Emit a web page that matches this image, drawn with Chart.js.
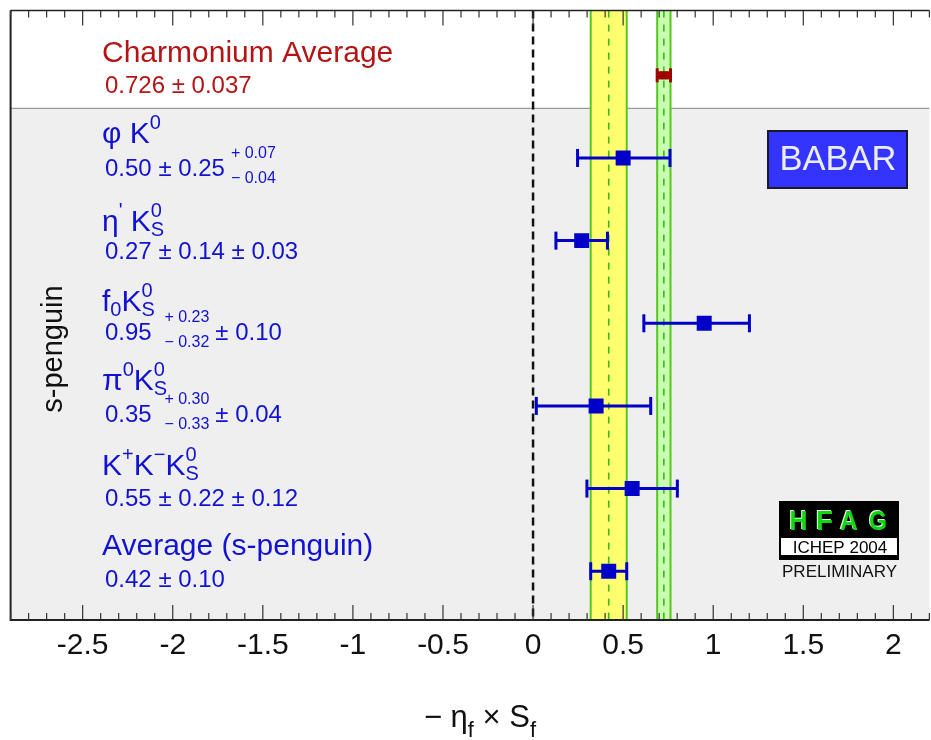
<!DOCTYPE html>
<html><head><meta charset="utf-8">
<script src="https://cdn.jsdelivr.net/npm/chart.js@4.4.1/dist/chart.umd.min.js"></script>
<style>html,body{margin:0;padding:0;background:#fff;overflow:hidden;width:931px;height:740px}canvas{display:block}</style>
</head><body>
<canvas id="c" width="940" height="740" style="width:940px;height:740px"></canvas>
<script>
// ---------------- data ----------------
const categories = ['Charmonium Average', 'φ K0', "η' KS0", 'f0 KS0', 'π0 KS0', 'K+ K− KS0', 'Average (s-penguin)'];
const centralValues = [0.726, 0.50, 0.27, 0.95, 0.35, 0.55, 0.42];
const errorMinus    = [0.037, 0.253, 0.143, 0.335, 0.332, 0.251, 0.10];
const errorPlus     = [0.037, 0.260, 0.143, 0.251, 0.303, 0.251, 0.10];
const nameLabels = [
  [{t:'Charmonium Average'}],
  [{t:'φ K'},{sup:'0'}],
  [{t:'η'},{sup:'\''},{t:' K'},{sup:'0',sub:'S'}],
  [{t:'f'},{sub:'0'},{t:'K'},{sup:'0',sub:'S'}],
  [{t:'π'},{sup:'0'},{t:'K'},{sup:'0',sub:'S'}],
  [{t:'K'},{sup:'+'},{t:'K'},{sup:'−'},{t:'K'},{sup:'0',sub:'S'}],
  [{t:'Average (s-penguin)'}]
];
const valueLabels = [
  [{t:'0.726 ± 0.037'}],
  [{t:'0.50 ± 0.25'},{sup:'+ 0.07',sub:'− 0.04'}],
  [{t:'0.27 ± 0.14 ± 0.03'}],
  [{t:'0.95 '},{sup:'+ 0.23',sub:'− 0.32'},{t:'± 0.10'}],
  [{t:'0.35 '},{sup:'+ 0.30',sub:'− 0.33'},{t:'± 0.04'}],
  [{t:'0.55 ± 0.22 ± 0.12'}],
  [{t:'0.42 ± 0.10'}]
];
const xTickValues = [-2.5, -2, -1.5, -1, -0.5, 0, 0.5, 1, 1.5, 2];
const xTickLabels = ['-2.5', '-2', '-1.5', '-1', '-0.5', '0', '0.5', '1', '1.5', '2'];
const xRange = [-2.9, 2.2];
const yAxisTitle = 's-penguin';
const xAxisTitle = [{t:'− '},{t:'η'},{sub:'f'},{t:' × S'},{sub:'f'}];
const charmoniumIndex = 0;
const sPenguinAverageIndex = 6;

// ---------------- layout / style ----------------
const FONT = '"Liberation Sans", Arial, Helvetica, sans-serif';
const BLUE = '#0000c8', BLUE_TXT = '#1212d2', RED = '#a00000', RED_TXT = '#b41414';
const nameDy  = [-13, -15, -10, -12, -16, -14, -16];
const valueDy = [ 18,  18,  18,  17,  16,  17,  16];
const rowY = i => categories.length - i;

function drawRich(ctx, x, y, segs, st, color) {
  ctx.fillStyle = color; ctx.textBaseline = 'alphabetic'; ctx.textAlign = 'left';
  let cx = x;
  for (const s of segs) {
    if (s.t !== undefined) {
      ctx.font = st.size + 'px ' + FONT;
      ctx.fillText(s.t, cx, y);
      cx += ctx.measureText(s.t).width;
    } else {
      ctx.font = st.script + 'px ' + FONT;
      cx += st.pad || 0;
      let w = 0;
      if (s.sup) { ctx.fillText(s.sup, cx, y + st.supDy); w = Math.max(w, ctx.measureText(s.sup).width); }
      if (s.sub) { ctx.fillText(s.sub, cx, y + st.subDy); w = Math.max(w, ctx.measureText(s.sub).width); }
      cx += w + (st.pad || 0);
    }
  }
  return cx - x;
}
function measureRich(ctx, segs, st) {
  let w = 0;
  for (const s of segs) {
    if (s.t !== undefined) { ctx.font = st.size + 'px ' + FONT; w += ctx.measureText(s.t).width; }
    else { ctx.font = st.script + 'px ' + FONT; let m = 0;
      if (s.sup) m = Math.max(m, ctx.measureText(s.sup).width);
      if (s.sub) m = Math.max(m, ctx.measureText(s.sub).width);
      w += m + 2 * (st.pad || 0); }
  }
  return w;
}
function fitText(ctx, txt, cx, y, maxW) {
  const w = ctx.measureText(txt).width;
  const s = Math.min(1, maxW / w);
  ctx.save(); ctx.translate(cx, y); ctx.scale(s, 1); ctx.textAlign = 'center';
  ctx.fillText(txt, 0, 0); ctx.restore();
}

const decor = {
  id: 'decor',
  beforeDraw(chart) {
    const {ctx, chartArea: a, scales: {y}} = chart;
    const sep = y.getPixelForValue(6.6);
    ctx.save();
    ctx.fillStyle = '#ffffff'; ctx.fillRect(a.left, a.top, a.right - a.left, sep - a.top);
    ctx.fillStyle = '#efefef'; ctx.fillRect(a.left, sep, a.right - a.left, a.bottom - sep);
    ctx.strokeStyle = '#9a9a9a'; ctx.lineWidth = 1.2;
    ctx.beginPath(); ctx.moveTo(a.left, sep); ctx.lineTo(a.right, sep); ctx.stroke();
    ctx.restore();
  },
  beforeDatasetsDraw(chart) {
    const {ctx, chartArea: a, scales: {x, y}} = chart;
    ctx.save();
    const band = (c, e, fill) => {
      const x1 = x.getPixelForValue(c - e), x2 = x.getPixelForValue(c + e), xc = x.getPixelForValue(c);
      ctx.fillStyle = fill; ctx.fillRect(x1, a.top, x2 - x1, a.bottom - a.top);
      ctx.strokeStyle = '#55c81e'; ctx.lineWidth = 2; ctx.setLineDash([]);
      ctx.beginPath(); ctx.moveTo(x1, a.top); ctx.lineTo(x1, a.bottom); ctx.moveTo(x2, a.top); ctx.lineTo(x2, a.bottom); ctx.stroke();
      ctx.lineWidth = 1.6; ctx.setLineDash([7, 7]); ctx.strokeStyle = '#3cb81a';
      ctx.beginPath(); ctx.moveTo(xc, a.top); ctx.lineTo(xc, a.bottom); ctx.stroke();
      ctx.setLineDash([]);
    };
    band(centralValues[sPenguinAverageIndex], errorPlus[sPenguinAverageIndex], '#ffff70');
    band(centralValues[charmoniumIndex], errorPlus[charmoniumIndex], '#c8ffb0');
    // zero line
    const x0 = x.getPixelForValue(0);
    ctx.strokeStyle = '#111'; ctx.lineWidth = 2.5; ctx.setLineDash([8, 5]);
    ctx.beginPath(); ctx.moveTo(x0, a.top); ctx.lineTo(x0, a.bottom); ctx.stroke();
    ctx.setLineDash([]);
    // error bars
    for (let i = 0; i < categories.length; i++) {
      const isC = i === charmoniumIndex;
      const yp = y.getPixelForValue(rowY(i));
      const x1 = x.getPixelForValue(centralValues[i] - errorMinus[i]);
      const x2 = x.getPixelForValue(centralValues[i] + errorPlus[i]);
      const col = isC ? RED : BLUE;
      ctx.strokeStyle = col; ctx.lineWidth = isC ? 8 : 3;
      ctx.beginPath(); ctx.moveTo(x1, yp); ctx.lineTo(x2, yp); ctx.stroke();
      const ch = isC ? 14 : 18;
      ctx.fillStyle = col;
      ctx.fillRect(x1 - 1.5, yp - ch / 2, 3, ch);
      ctx.fillRect(x2 - 1.5, yp - ch / 2, 3, ch);
    }
    ctx.restore();
  },
  afterDraw(chart) {
    const {ctx, chartArea: a, scales: {x, y}} = chart;
    ctx.save();
    // frame
    ctx.strokeStyle = '#222'; ctx.lineWidth = 2;
    ctx.beginPath(); ctx.moveTo(a.left, a.top); ctx.lineTo(a.left, a.bottom); ctx.lineTo(a.right, a.bottom); ctx.stroke();
    ctx.lineWidth = 1.5;
    ctx.beginPath(); ctx.moveTo(a.left, a.top); ctx.lineTo(a.right, a.top); ctx.stroke();
    // ticks (inward), minor every 0.1
    ctx.strokeStyle = '#333'; ctx.lineWidth = 1.2;
    ctx.beginPath();
    const n0 = Math.ceil(xRange[0] * 10 - 1e-6), n1 = Math.floor(xRange[1] * 10 + 1e-6);
    for (let k = n0; k <= n1; k++) {
      const px = x.getPixelForValue(k / 10);
      const len = (k % 5 === 0) ? 15 : 7;
      ctx.moveTo(px, a.bottom); ctx.lineTo(px, a.bottom - len);
      ctx.moveTo(px, a.top); ctx.lineTo(px, a.top + len);
    }
    ctx.stroke();
    // row labels
    for (let i = 0; i < categories.length; i++) {
      const yp = y.getPixelForValue(rowY(i));
      const col = i === charmoniumIndex ? RED_TXT : BLUE_TXT;
      drawRich(ctx, 102, yp + nameDy[i], nameLabels[i], {size: 30, script: 20, supDy: -14, subDy: 5}, col);
      drawRich(ctx, 105, yp + valueDy[i], valueLabels[i], {size: 24, script: 16, supDy: -18, subDy: 7, pad: 6}, col);
    }
    // y-axis title
    ctx.save(); ctx.translate(62, 349); ctx.rotate(-Math.PI / 2);
    ctx.fillStyle = '#111'; ctx.font = '29px ' + FONT; ctx.textAlign = 'center'; ctx.textBaseline = 'alphabetic';
    ctx.fillText(yAxisTitle, 0, 0); ctx.restore();
    // x-axis title
    const xst = {size: 31, script: 22, supDy: -12, subDy: 10};
    const tw = measureRich(ctx, xAxisTitle, xst);
    drawRich(ctx, 480 - tw / 2, 727, xAxisTitle, xst, '#111');
    // BABAR box
    ctx.fillStyle = '#1a1a2a'; ctx.fillRect(767, 130, 141, 59);
    ctx.fillStyle = '#3434ff'; ctx.fillRect(769, 132, 137, 55);
    ctx.fillStyle = '#ececff'; ctx.font = '35px ' + FONT; ctx.textBaseline = 'alphabetic';
    fitText(ctx, 'BABAR', 838, 170, 117);
    // HFAG logo
    ctx.fillStyle = '#000'; ctx.fillRect(779, 501, 120, 59);
    ctx.fillStyle = '#fff'; ctx.fillRect(781, 538, 116, 17);
    ctx.font = 'bold 28px ' + FONT;
    const letters = ['H', 'F', 'A', 'G'], lx = [798.5, 824.5, 849, 878];
    letters.forEach((L, k) => {
      ctx.fillStyle = '#e8ffe8'; fitText(ctx, L, lx[k] - 1, 529, 18);
      ctx.fillStyle = '#12d612'; fitText(ctx, L, lx[k], 530, 18);
    });
    ctx.fillStyle = '#000'; ctx.font = '17px ' + FONT;
    fitText(ctx, 'ICHEP 2004', 840, 552.5, 99);
    ctx.fillStyle = '#111'; ctx.font = '17px ' + FONT;
    fitText(ctx, 'PRELIMINARY', 839.5, 577, 118);
    ctx.restore();
  }
};

new Chart(document.getElementById('c'), {
  type: 'scatter',
  data: {
    datasets: [
      { label: categories[charmoniumIndex],
        data: [{x: centralValues[charmoniumIndex], y: rowY(charmoniumIndex)}],
        pointStyle: 'rect', pointRadius: 5.5, backgroundColor: RED, borderWidth: 0 },
      { label: 's-penguin',
        data: categories.map((c, i) => ({x: centralValues[i], y: rowY(i)})).filter((p, i) => i !== charmoniumIndex),
        pointStyle: 'rect', pointRadius: 10.6, backgroundColor: BLUE, borderWidth: 0 }
    ]
  },
  options: {
    responsive: false, animation: false, events: [],
    layout: { padding: { left: 6, top: 8, right: 6, bottom: 0 } },
    plugins: { legend: { display: false }, tooltip: { enabled: false } },
    scales: {
      x: {
        type: 'linear', min: xRange[0], max: xRange[1], position: 'bottom',
        afterBuildTicks: s => { s.ticks = xTickValues.map(v => ({value: v})); },
        afterFit: s => { s.height = 120; },
        grid: { display: false, drawTicks: false },
        border: { display: false },
        ticks: { font: { size: 30, family: FONT }, color: '#111', padding: 8, maxRotation: 0, autoSkip: false,
                 callback: (v, i) => xTickLabels[i] }
      },
      y: { type: 'linear', display: false, min: 0.41, max: 7.783 }
    }
  },
  plugins: [decor]
});
</script>
</body></html>
